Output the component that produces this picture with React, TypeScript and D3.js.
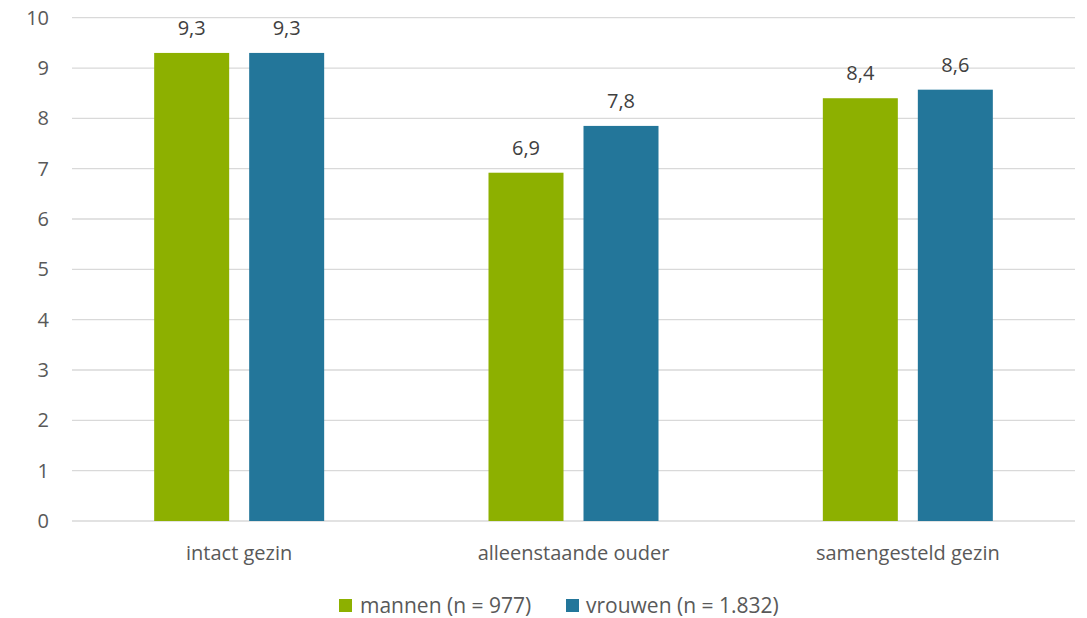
import React from "react";
import * as d3 from "d3";

const categories = ["intact gezin", "alleenstaande ouder", "samengesteld gezin"];
const seriesNames = ["mannen (n = 977)", "vrouwen (n = 1.832)"];
const mannen = [9.3, 6.92, 8.4];
const vrouwen = [9.3, 7.85, 8.57];
const mannenLabels = ["9,3", "6,9", "8,4"];
const vrouwenLabels = ["9,3", "7,8", "8,6"];
const yTicks = [0, 1, 2, 3, 4, 5, 6, 7, 8, 9, 10];
const colors = ["#8DB000", "#23769A"];

const W = 1087;
const H = 618;
const margin = { left: 72, right: 12, top: 17.7, bottom: 97 };
const FONT = "'Open Sans', sans-serif";
const TEXT = "#595959";
const FS = 20;

export default function App() {
  const x = d3.scaleBand<string>().domain(categories).range([margin.left, W - margin.right]);
  const y = d3.scaleLinear().domain([0, 10]).range([H - margin.bottom, margin.top]);
  const series = [mannen, vrouwen];
  const labels = [mannenLabels, vrouwenLabels];
  const barW = 75;
  const gap = 20;
  return (
    <svg width={W} height={H} style={{ position: "absolute", left: 0, top: 0 }} fontFamily={FONT}>
      {yTicks.map((t) => (
        <g key={t}>
          <line x1={margin.left} x2={W - margin.right} y1={y(t)} y2={y(t)} stroke="#D9D9D9" strokeWidth={1.3} />
          <text x={49} y={y(t)} dy="0.35em" textAnchor="end" fontSize={FS} fill={TEXT}>{t}</text>
        </g>
      ))}
      {categories.map((c, i) => {
        const cx = (x(c) as number) + x.bandwidth() / 2;
        return (
          <g key={c}>
            {series.map((s, j) => {
              const bx = j === 0 ? cx - gap / 2 - barW : cx + gap / 2;
              return (
                <g key={j}>
                  <rect x={bx} y={y(s[i])} width={barW} height={y(0) - y(s[i])} fill={colors[j]} />
                  <text x={bx + barW / 2} y={y(s[i]) - 25} dy="0.35em" textAnchor="middle" fontSize={FS} fill="#404040">{labels[j][i]}</text>
                </g>
              );
            })}
            <text x={cx} y={553} dy="0.35em" textAnchor="middle" fontSize={FS} fill={TEXT}>{c}</text>
          </g>
        );
      })}
      <g>
        <rect x={339} y={599} width={13} height={13} fill={colors[0]} />
        <text x={360} y={606} dy="0.35em" fontSize={21} fill={TEXT}>{seriesNames[0]}</text>
        <rect x={566} y={599} width={13} height={13} fill={colors[1]} />
        <text x={586} y={606} dy="0.35em" fontSize={21} fill={TEXT}>{seriesNames[1]}</text>
      </g>
    </svg>
  );
}
